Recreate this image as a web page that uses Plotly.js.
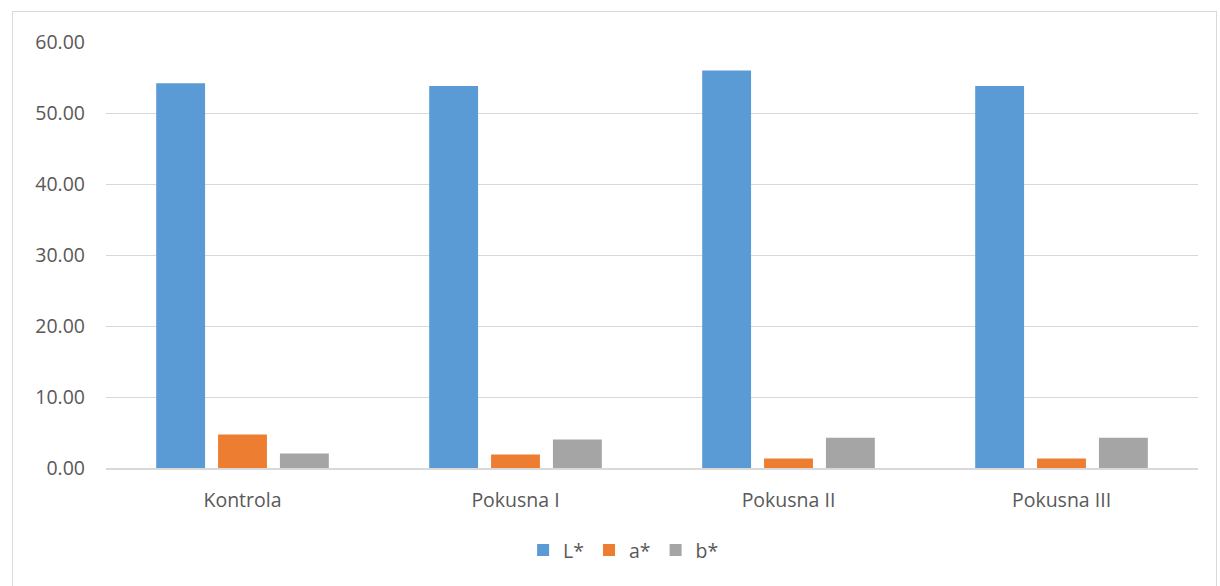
<!DOCTYPE html>
<html>
<head>
<meta charset="utf-8">
<script src="https://cdn.plot.ly/plotly-3.0.1.min.js"></script>
<style>
  html, body { margin: 0; padding: 0; background: #fff; }
  #wrap { position: relative; width: 1220px; height: 586px; overflow: hidden; }
  #chart { position: absolute; left: 0; top: 0; width: 1220px; height: 586px; }
  #frame { position: absolute; left: 12px; top: 11px; width: 1205px; height: 600px;
           border: 1.5px solid #d9d9d9; box-sizing: border-box; pointer-events: none; }
</style>
</head>
<body>
<div id="wrap">
  <div id="chart"></div>
  <div id="frame"></div>
</div>
<script>
const categories = ["Kontrola", "Pokusna I", "Pokusna II", "Pokusna III"];
const seriesNames = ["L*", "a*", "b*"];
const Lvalues = [54.19, 53.81, 55.97, 53.80];
const aValues = [4.71, 1.90, 1.34, 1.34];
const bValues = [2.04, 4.00, 4.25, 4.25];
const yTickVals = [0, 10, 20, 30, 40, 50, 60];
const colors = ["#5B9BD5", "#ED7D31", "#A5A5A5"];

const allValues = [Lvalues, aValues, bValues];
const traces = allValues.map((vals, i) => ({
  type: "bar",
  name: seriesNames[i],
  x: categories,
  y: vals,
  marker: { color: colors[i] },
  hoverinfo: "x+y+name"
}));

const layout = {
  width: 1220,
  height: 586,
  margin: { l: 105.5, r: 22, t: 42, b: 117.5 },
  paper_bgcolor: "rgba(0,0,0,0)",
  plot_bgcolor: "#ffffff",
  barmode: "group",
  bargap: 0.32,
  bargroupgap: 0.21,
  font: { family: "Open Sans, Noto Sans, sans-serif", size: 19.5, color: "#595959" },
  xaxis: {
    type: "category",
    showgrid: false,
    showline: true,
    linecolor: "#d9d9d9",
    linewidth: 1.5,
    ticks: "",
    tickfont: { size: 19.5, color: "#595959" },
    ticklabelstandoff: 14
  },
  yaxis: {
    range: [0, 60],
    tickvals: yTickVals,
    ticktext: yTickVals.map(v => v.toFixed(2)),
    showgrid: true,
    gridcolor: "#d9d9d9",
    gridwidth: 1,
    zeroline: false,
    showline: false,
    ticks: "",
    tickfont: { size: 19.5, color: "#595959" },
    ticklabelstandoff: 20
  },
  showlegend: true,
  legend: {
    orientation: "h",
    x: 0.474,
    xanchor: "center",
    y: -0.193,
    yanchor: "middle",
    font: { size: 19.5, color: "#595959" },
    itemwidth: 30,
    traceorder: "normal"
  }
};

Plotly.newPlot("chart", traces, layout, { displayModeBar: false, staticPlot: true });
</script>
</body>
</html>
